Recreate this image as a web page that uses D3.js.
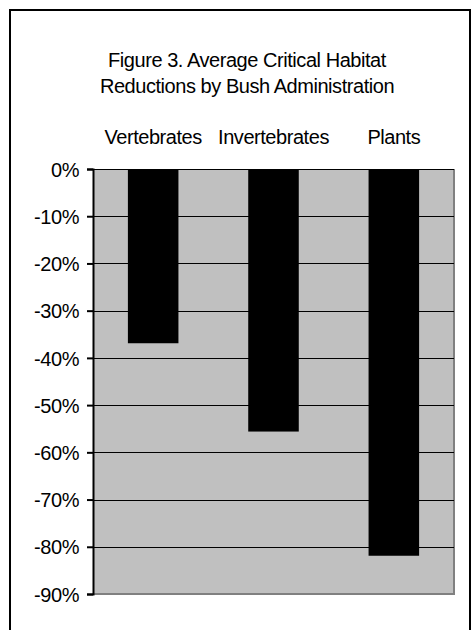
<!DOCTYPE html>
<html>
<head>
<meta charset="utf-8">
<script src="https://cdn.jsdelivr.net/npm/d3@7"></script>
<style>
  body { margin: 0; background: #fff; }
  svg text { font-family: "Liberation Sans", Arial, sans-serif; fill: #000; }
</style>
</head>
<body>
<div id="chart"></div>
<script>
// chart data
const categories = ["Vertebrates", "Invertebrates", "Plants"];
const reductions = [-36.9, -55.6, -81.9];
const yTicks = [0, -10, -20, -30, -40, -50, -60, -70, -80, -90];
const titleLines = ["Figure 3. Average Critical Habitat", "Reductions by Bush Administration"];

const W = 472, H = 630;
const plot = { left: 93, right: 454, top: 169, bottom: 594 };
const fontSize = "20px";
const tracking = "-0.45px";

const svg = d3.select("#chart").append("svg")
    .attr("width", W)
    .attr("height", H);

// outer frame
svg.append("rect")
    .attr("x", 10).attr("y", 10)
    .attr("width", 460).attr("height", 640)
    .attr("fill", "none")
    .attr("stroke", "#000")
    .attr("stroke-width", 2);

// title
svg.append("g").selectAll("text")
    .data(titleLines)
    .enter()
    .append("text")
    .attr("x", 247)
    .attr("y", (d, i) => 67 + i * 26)
    .attr("text-anchor", "middle")
    .style("font-size", fontSize)
    .style("letter-spacing", tracking)
    .text(d => d);

// scales
const x = d3.scaleBand()
    .domain(categories)
    .range([plot.left, plot.right])
    .paddingInner(0.58)
    .paddingOuter(0.29);

const y = d3.scaleLinear()
    .domain([0, -90])
    .range([plot.top, plot.bottom]);

// plot background
svg.append("rect")
    .attr("x", plot.left)
    .attr("y", plot.top)
    .attr("width", plot.right - plot.left)
    .attr("height", plot.bottom - plot.top)
    .attr("fill", "#c0c0c0");

// gray right/bottom edges
svg.append("path")
    .attr("d", `M${plot.right},${plot.top}V${plot.bottom}H${plot.left}`)
    .attr("fill", "none")
    .attr("stroke", "#808080")
    .attr("stroke-width", 2);

// gridlines
svg.append("g")
    .selectAll("line")
    .data(yTicks.filter(t => t !== -90))
    .enter()
    .append("line")
    .attr("x1", plot.left)
    .attr("x2", plot.right)
    .attr("y1", d => Math.round(y(d)) + 0.5)
    .attr("y2", d => Math.round(y(d)) + 0.5)
    .attr("stroke", "#000")
    .attr("stroke-width", 1);

// bars
svg.append("g")
    .selectAll("rect")
    .data(categories)
    .enter()
    .append("rect")
    .attr("x", d => x(d))
    .attr("y", y(0))
    .attr("width", x.bandwidth())
    .attr("height", (d, i) => y(reductions[i]) - y(0))
    .attr("fill", "#000");

// y axis
const yAxis = svg.append("g")
    .attr("transform", `translate(${plot.left},0)`)
    .call(d3.axisLeft(y)
        .tickValues(yTicks)
        .tickFormat(d => d + "%")
        .tickSize(6)
        .tickPadding(8));

yAxis.select(".domain").attr("stroke", "#000").attr("stroke-width", 2);
yAxis.selectAll(".tick line").attr("stroke", "#000").attr("stroke-width", 2);
yAxis.selectAll(".tick text")
    .style("font-size", fontSize)
    .style("letter-spacing", tracking)
    .attr("dy", "0.36em");

// category labels on top
svg.append("g")
    .selectAll("text")
    .data(categories)
    .enter()
    .append("text")
    .attr("x", d => x(d) + x.bandwidth() / 2)
    .attr("y", 144)
    .attr("text-anchor", "middle")
    .style("font-size", fontSize)
    .style("letter-spacing", tracking)
    .text(d => d);
</script>
</body>
</html>
